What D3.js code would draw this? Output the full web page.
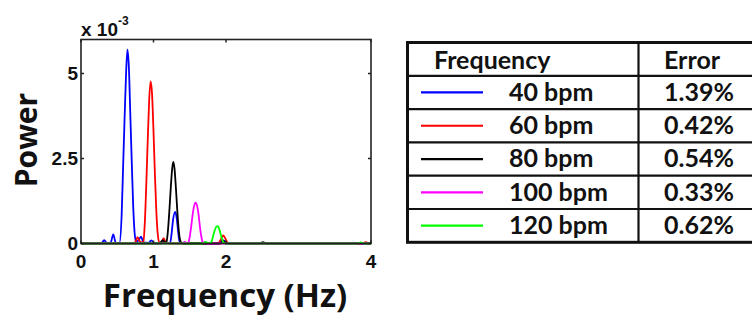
<!DOCTYPE html>
<html>
<head>
<meta charset="utf-8">
<script src="https://cdn.jsdelivr.net/npm/d3@7"></script>
<style>
  body { margin: 0; background: #fff; }
  svg { display: block; }
  .tick-label { font-family: "Liberation Sans", Arial, sans-serif; font-weight: bold; font-size: 19px; fill: #111; }
  .axis-title { font-family: "Open Sans", sans-serif; font-weight: bold; fill: #111; }
  .table-text { font-family: Lato, sans-serif; font-weight: bold; font-size: 25px; fill: #111; }
</style>
</head>
<body>
<div id="chart"></div>
<script>
// spectra: [frequency Hz, power x 1e-3]
const bpm40 = [[0,0],[0.28,0],[0.32,0.1],[0.36,0],[0.41,0.03],[0.445,0.27],[0.48,0.02],[0.53,0.02],[0.56,0.8],[0.58,2.2],[0.60,3.6],[0.62,4.9],[0.64,5.7],[0.66,5.2],[0.68,3.8],[0.70,2.4],[0.72,1.1],[0.74,0.3],[0.76,0.04],[0.80,0.12],[0.83,0.2],[0.86,0.03],[0.93,0.02],[0.97,0.09],[1.01,0.01],[1.10,0],[1.14,0.06],[1.18,0.01],[1.23,0.02],[1.25,0.3],[1.27,0.7],[1.30,0.93],[1.32,0.75],[1.34,0.35],[1.36,0.05],[1.40,0],[1.91,0],[1.95,0.1],[1.99,0.06],[2.03,0],[4,0]];
const bpm60 = [[0,0],[0.72,0],[0.75,0.04],[0.78,0.19],[0.81,0.06],[0.84,0.03],[0.86,0.05],[0.88,0.6],[0.90,1.7],[0.92,3.0],[0.94,4.2],[0.96,4.77],[0.98,4.4],[1.00,3.3],[1.02,2.0],[1.04,0.9],[1.06,0.25],[1.08,0.03],[1.11,0.04],[1.14,0.16],[1.17,0.03],[1.22,0],[1.88,0],[1.90,0.02],[1.93,0.12],[1.96,0.24],[1.99,0.15],[2.02,0.03],[2.06,0],[3.88,0],[3.93,0.04],[3.97,0],[4,0]];
const bpm80 = [[0,0],[1.06,0],[1.10,0.03],[1.13,0.1],[1.16,0.02],[1.18,0.05],[1.20,0.4],[1.22,1.0],[1.24,1.7],[1.26,2.25],[1.275,2.4],[1.29,2.2],[1.31,1.6],[1.33,0.9],[1.35,0.35],[1.37,0.08],[1.40,0],[1.92,0],[1.96,0.08],[2.0,0],[2.46,0],[2.51,0.04],[2.56,0],[4,0]];
const bpm100 = [[0,0],[1.40,0],[1.43,0.05],[1.46,0],[1.48,0.02],[1.50,0.2],[1.52,0.5],[1.54,0.85],[1.56,1.1],[1.58,1.2],[1.60,1.12],[1.62,0.88],[1.64,0.5],[1.66,0.2],[1.68,0.03],[1.71,0.04],[1.74,0],[4,0]];
const bpm120 = [[0,0],[1.68,0],[1.72,0.05],[1.76,0.01],[1.79,0.02],[1.81,0.12],[1.83,0.28],[1.85,0.42],[1.87,0.5],[1.89,0.51],[1.91,0.4],[1.93,0.25],[1.95,0.1],[1.97,0.02],[2.01,0],[3.82,0],[3.86,0.03],[3.90,0],[4,0]];

const series = [bpm40, bpm60, bpm80, bpm100, bpm120];
const seriesColors = ["#0000ff", "#ff0000", "#000000", "#ff00ff", "#00ff00"];

const xTicks = [0, 1, 2, 4];
const yTicks = [0, 2.5, 5];

// table contents
const rateLabels = ["40 bpm", "60 bpm", "80 bpm", "100 bpm", "120 bpm"];
const errorLabels = ["1.39%", "0.42%", "0.54%", "0.33%", "0.62%"];
const headerLabels = ["Frequency", "Error"];

const W = 752, H = 320;
const svg = d3.select("#chart").append("svg").attr("width", W).attr("height", H);

// ---- spectrum plot ----
const plot = { left: 81, right: 371, top: 39.5, bottom: 243.5 };
const x = d3.scaleLinear().domain([0, 4]).range([plot.left, plot.right]);
const y = d3.scaleLinear().domain([0, 6]).range([plot.bottom, plot.top]);

const line = d3.line()
  .x(d => x(d[0]))
  .y(d => y(d[1]))
  .curve(d3.curveMonotoneX);

svg.append("g").selectAll("path")
  .data(series)
  .enter()
  .append("path")
  .attr("d", line)
  .attr("fill", "none")
  .attr("stroke", (d, i) => seriesColors[i])
  .attr("stroke-width", 1.8);

// box
svg.append("rect")
  .attr("x", plot.left).attr("y", plot.top)
  .attr("width", plot.right - plot.left).attr("height", plot.bottom - plot.top)
  .attr("fill", "none").attr("stroke", "#222").attr("stroke-width", 1.6);

// inward ticks on all sides
const tickLen = 3;
svg.append("g").selectAll("line")
  .data(xTicks)
  .enter()
  .append("line")
  .attr("x1", d => x(d)).attr("x2", d => x(d))
  .attr("y1", plot.top).attr("y2", plot.top + tickLen)
  .attr("stroke", "#222").attr("stroke-width", 1.5);
svg.append("g").selectAll("line")
  .data(xTicks)
  .enter()
  .append("line")
  .attr("x1", d => x(d)).attr("x2", d => x(d))
  .attr("y1", plot.bottom).attr("y2", plot.bottom - tickLen)
  .attr("stroke", "#222").attr("stroke-width", 1.5);
svg.append("g").selectAll("line")
  .data(yTicks)
  .enter()
  .append("line")
  .attr("x1", plot.left).attr("x2", plot.left + tickLen)
  .attr("y1", d => y(d)).attr("y2", d => y(d))
  .attr("stroke", "#222").attr("stroke-width", 1.5);
svg.append("g").selectAll("line")
  .data(yTicks)
  .enter()
  .append("line")
  .attr("x1", plot.right).attr("x2", plot.right - tickLen)
  .attr("y1", d => y(d)).attr("y2", d => y(d))
  .attr("stroke", "#222").attr("stroke-width", 1.5);

// tick labels
svg.append("g").selectAll("text")
  .data(xTicks)
  .enter()
  .append("text")
  .attr("class", "tick-label")
  .attr("x", d => x(d))
  .attr("y", plot.bottom + 24)
  .attr("text-anchor", "middle")
  .text(d => d);

svg.append("g").selectAll("text")
  .data(yTicks)
  .enter()
  .append("text")
  .attr("class", "tick-label")
  .attr("x", plot.left - 3)
  .attr("y", d => y(d))
  .attr("dy", "0.36em")
  .attr("text-anchor", "end")
  .text(d => d);

// exponent label
const expo = svg.append("text")
  .attr("class", "tick-label")
  .attr("x", plot.left)
  .attr("y", 36);
expo.append("tspan").text("x 10");
expo.append("tspan").attr("dy", -11).style("font-size", "12px").text("-3");

// axis titles
svg.append("text")
  .attr("class", "axis-title")
  .attr("x", (plot.left + plot.right) / 2 - 1)
  .attr("y", 307)
  .attr("text-anchor", "middle")
  .style("font-size", "33px")
  .text("Frequency (Hz)");

svg.append("text")
  .attr("class", "axis-title")
  .attr("transform", "translate(37, 140) rotate(-90)")
  .attr("text-anchor", "middle")
  .style("font-size", "30px")
  .text("Power");

// ---- error table ----
const table = { left: 407.5, top: 42.5, colSplit: 638.5, right: 770 };
const rowH = 33.3;
const rows = d3.range(rateLabels.length + 1);
const ty = i => table.top + i * rowH;

svg.append("rect")
  .attr("x", table.left).attr("y", table.top)
  .attr("width", table.right - table.left).attr("height", rowH * rows.length)
  .attr("fill", "none").attr("stroke", "#111").attr("stroke-width", 3);

svg.append("g").selectAll("line")
  .data(rows.slice(1))
  .enter()
  .append("line")
  .attr("x1", table.left).attr("x2", table.right)
  .attr("y1", d => ty(d)).attr("y2", d => ty(d))
  .attr("stroke", "#111").attr("stroke-width", 2.2);

svg.append("line")
  .attr("x1", table.colSplit).attr("x2", table.colSplit)
  .attr("y1", table.top).attr("y2", ty(rows.length))
  .attr("stroke", "#111").attr("stroke-width", 2.2);

// header
svg.append("text").attr("class", "table-text")
  .attr("x", 434).attr("y", ty(0) + 26).text(headerLabels[0]);
svg.append("text").attr("class", "table-text")
  .attr("x", 664).attr("y", ty(0) + 26).text(headerLabels[1]);

// legend rows
const body = svg.append("g").selectAll("g")
  .data(rateLabels)
  .enter()
  .append("g")
  .attr("transform", (d, i) => `translate(0, ${ty(i + 1)})`);

body.append("line")
  .attr("x1", 421).attr("x2", 483)
  .attr("y1", rowH / 2).attr("y2", rowH / 2)
  .attr("stroke", (d, i) => seriesColors[i])
  .attr("stroke-width", 2.2);

body.append("text").attr("class", "table-text")
  .attr("x", 509).attr("y", 25)
  .text(d => d);

body.append("text").attr("class", "table-text")
  .attr("x", 664).attr("y", 25)
  .text((d, i) => errorLabels[i]);
</script>
</body>
</html>
